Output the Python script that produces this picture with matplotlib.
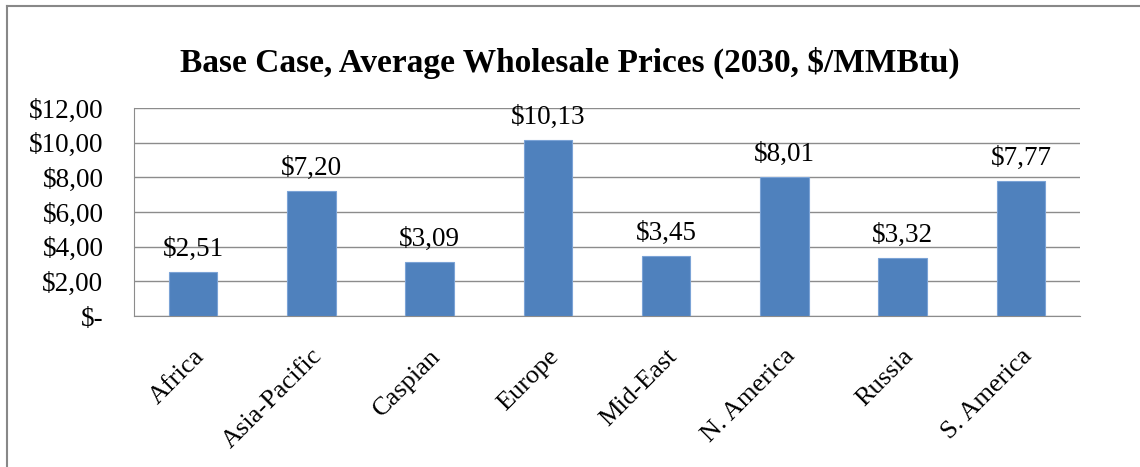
import matplotlib.pyplot as plt
from matplotlib.lines import Line2D
from matplotlib.ticker import FuncFormatter

regions = ["Africa", "Asia-Pacific", "Caspian", "Europe", "Mid-East",
           "N. America", "Russia", "S. America"]
prices = [2.51, 7.20, 3.09, 10.13, 3.45, 8.01, 3.32, 7.77]
y_ticks = [0, 2, 4, 6, 8, 10, 12]

SERIF = ["Liberation Serif", "DejaVu Serif"]
BAR_COLOR = "#4F81BD"
GRID_COLOR = "#8C8C8C"


def money(v, _pos=None):
    if v == 0:
        return "$-"
    return "$" + f"{v:.2f}".replace(".", ",")


fig = plt.figure(figsize=(11.4, 4.67), dpi=100)
ax = fig.add_axes([134 / 1140, 1 - 316 / 467, (1080 - 134) / 1140, (316 - 108) / 467])

x = range(len(regions))
bars = ax.bar(x, prices, width=0.41, color=BAR_COLOR, edgecolor="#7BA3D6",
              linewidth=0.8, zorder=3)

for rect, v in zip(bars, prices):
    ax.annotate(money(v), (rect.get_x() + rect.get_width() / 2, v),
                xytext=(0, 12), textcoords="offset points",
                ha="center", va="baseline", fontsize=19.5, family=SERIF)

ax.set_xlim(-0.5, len(regions) - 0.5)
ax.set_ylim(0, 12)
ax.set_yticks(y_ticks)
ax.yaxis.set_major_formatter(FuncFormatter(money))
ax.grid(axis="y", color=GRID_COLOR, linewidth=1.0, zorder=0)

ax.set_xticks(list(x))
ax.set_xticklabels(regions, rotation=45, ha="right", rotation_mode="anchor",
                   fontsize=19, family=SERIF)
for lbl in ax.get_yticklabels():
    lbl.set_fontsize(19.5)
    lbl.set_family(SERIF)

ax.tick_params(axis="x", length=0, pad=21)
ax.tick_params(axis="y", length=0, pad=22)
for side in ["top", "right"]:
    ax.spines[side].set_visible(False)
ax.spines["left"].set_color(GRID_COLOR)
ax.spines["bottom"].set_color(GRID_COLOR)

fig.text(0.5, 1 - 63 / 467, "Base Case, Average Wholesale Prices (2030, $/MMBtu)",
         ha="center", va="center", fontsize=24, fontweight="bold", family=SERIF)

# chart frame: only left and top edges are visible in the crop
fx = 6.5 / 1140
fy = 1 - 5.5 / 467
fig.add_artist(Line2D([fx, fx], [0, fy], transform=fig.transFigure,
                      color="#888888", linewidth=1.5))
fig.add_artist(Line2D([fx, 1], [fy, fy], transform=fig.transFigure,
                      color="#888888", linewidth=1.5))

fig.savefig("out.png", dpi=100)
